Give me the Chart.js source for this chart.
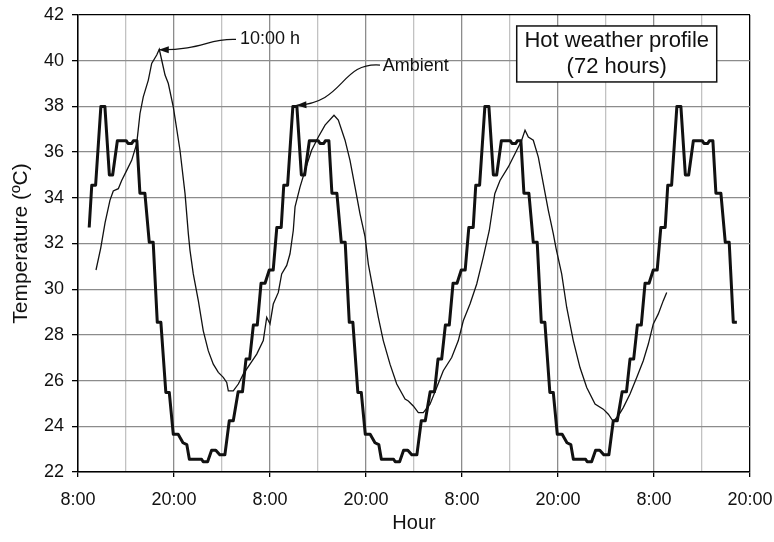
<!DOCTYPE html>
<html>
<head>
<meta charset="utf-8">
<script src="https://cdn.jsdelivr.net/npm/chart.js@4.4.1/dist/chart.umd.min.js"></script>
<style>
  html, body { margin: 0; padding: 0; background: #fff; }
  canvas { display: block; }
</style>
</head>
<body>
<canvas id="chart" width="774" height="542"></canvas>
<script>
// hours since the first 8:00 tick
const X_TICK_LABELS = ["8:00", "20:00", "8:00", "20:00", "8:00", "20:00", "8:00", "20:00"];
const Y_TICK_LABELS = ["22", "24", "26", "28", "30", "32", "34", "36", "38", "40", "42"];

// Ambient (thick stepped line): vertices
const ambientHours = [
  1.40, 1.72, 2.20, 2.86, 3.36, 3.92, 4.33, 4.92, 6.02, 6.25, 6.72, 6.92, 7.36, 7.74, 8.36,
  8.91, 9.40, 9.91, 10.36, 10.98, 11.41, 11.91, 12.52, 13.12, 13.60, 13.92, 15.45, 15.65,
  16.20, 16.70, 17.22, 17.72, 18.36, 18.91, 19.41, 20.02, 20.56, 21.00, 21.46, 21.92, 22.41,
  22.88, 23.38, 23.91, 24.40, 24.85,
  25.40, 25.72, 26.20, 26.86, 27.36, 27.92, 28.33, 28.92, 30.02, 30.25, 30.72, 30.92, 31.36,
  31.74, 32.36, 32.91, 33.40, 33.91, 34.36, 34.98, 35.41, 35.91, 36.52, 37.12, 37.60, 37.92,
  39.45, 39.65, 40.20, 40.70, 41.22, 41.72, 42.36, 42.91, 43.41, 44.02, 44.56, 45.00, 45.46,
  45.92, 46.41, 46.88, 47.38, 47.91, 48.40, 48.85,
  49.40, 49.72, 50.20, 50.86, 51.36, 51.92, 52.33, 52.92, 54.02, 54.25, 54.72, 54.92, 55.36,
  55.74, 56.36, 56.91, 57.40, 57.91, 58.36, 58.98, 59.41, 59.91, 60.52, 61.12, 61.60, 61.92,
  63.45, 63.65, 64.20, 64.70, 65.22, 65.72, 66.36, 66.91, 67.41, 68.02, 68.56, 69.00, 69.46,
  69.92, 70.41, 70.88, 71.38, 71.91, 72.40, 72.85,
  73.40, 73.72, 74.20, 74.86, 75.36, 75.92, 76.33, 76.92, 78.02, 78.25, 78.72, 78.92, 79.36,
  79.74, 80.36, 80.91, 81.40, 81.91, 82.36,
];
const ambientTemp = [
  32.7, 34.55, 34.55, 38.0, 38.0, 35.0, 35.0, 36.5, 36.5, 36.38, 36.38, 36.5, 36.5, 34.2, 34.2,
  32.05, 32.05, 28.55, 28.55, 25.48, 25.48, 23.65, 23.65, 23.28, 23.2, 22.56, 22.56, 22.45,
  22.45, 22.95, 22.95, 22.75, 22.75, 24.24, 24.24, 25.51, 25.51, 26.94, 26.94, 28.43, 28.43,
  30.26, 30.26, 30.84, 30.84, 32.7,
  32.7, 34.55, 34.55, 38.0, 38.0, 35.0, 35.0, 36.5, 36.5, 36.38, 36.38, 36.5, 36.5,
  34.2, 34.2, 32.05, 32.05, 28.55, 28.55, 25.48, 25.48, 23.65, 23.65, 23.28, 23.2, 22.56,
  22.56, 22.45, 22.45, 22.95, 22.95, 22.75, 22.75, 24.24, 24.24, 25.51, 25.51, 26.94, 26.94,
  28.43, 28.43, 30.26, 30.26, 30.84, 30.84, 32.7,
  32.7, 34.55, 34.55, 38.0, 38.0, 35.0, 35.0, 36.5, 36.5, 36.38, 36.38, 36.5, 36.5,
  34.2, 34.2, 32.05, 32.05, 28.55, 28.55, 25.48, 25.48, 23.65, 23.65, 23.28, 23.2, 22.56,
  22.56, 22.45, 22.45, 22.95, 22.95, 22.75, 22.75, 24.24, 24.24, 25.51, 25.51, 26.94, 26.94,
  28.43, 28.43, 30.26, 30.26, 30.84, 30.84, 32.7,
  32.7, 34.55, 34.55, 38.0, 38.0, 35.0, 35.0, 36.5, 36.5, 36.38, 36.38, 36.5, 36.5,
  34.2, 34.2, 32.05, 32.05, 28.55, 28.55,
];

// lagged temperature (thin line)
const laggedHours = [
  2.25, 2.84, 3.38, 4.00, 4.41, 5.04, 5.46, 6.09, 6.71, 7.34, 7.75, 8.16, 8.79, 9.21, 9.84,
  10.16, 10.46, 10.88, 11.29, 11.91, 12.75, 13.38, 13.79, 14.00, 14.41, 15.04, 15.66, 16.29,
  16.91, 17.54, 18.16, 18.59, 18.79, 19.41, 20.04, 20.66, 21.50, 22.34, 23.16, 23.59, 24.00,
  24.41, 25.04, 25.46, 26.09, 26.50, 26.91, 27.13, 27.75, 28.38, 29.20, 30.04, 30.88, 32.00,
  32.54, 33.38, 34.00, 34.63, 35.25, 35.88, 36.29, 36.91, 37.54, 38.16, 39.00, 39.84, 40.88,
  41.29, 41.91, 42.54, 43.16, 44.00, 44.84, 45.66, 46.71, 47.54, 48.16, 49.00, 49.84, 50.66,
  51.41, 52.10, 52.75, 53.79, 54.84, 55.46, 55.88, 56.29, 56.91, 57.54, 58.16, 58.79, 59.41,
  59.75, 60.46, 61.09, 61.91, 62.75, 63.59, 64.63, 65.66, 66.29, 66.91, 67.54, 68.16, 69.00,
  69.84, 70.66, 71.29, 71.91, 72.54, 73.16, 73.59,
];
const laggedTemp = [
  30.84, 31.8, 32.9, 33.9, 34.3, 34.4, 34.76, 35.2, 35.64, 36.37, 37.69, 38.42, 39.15, 39.88, 40.25,
  40.5, 40.03, 39.37, 39.0, 37.98, 36.08, 34.18, 32.43, 31.7, 30.67, 29.5, 28.18, 27.3,
  26.72, 26.36, 26.14, 25.92, 25.55, 25.55, 25.85, 26.28, 26.72, 27.16, 27.75, 28.77, 28.48,
  29.35, 29.86, 30.67, 31.04, 31.55, 32.57, 33.6, 34.47, 35.2, 36.08, 36.66, 37.18, 37.61,
  37.4, 36.52, 35.64, 34.47, 33.3, 32.3, 31.1, 29.94, 28.77, 27.75, 26.72, 25.85, 25.19,
  25.11, 24.89, 24.6, 24.6, 24.97, 25.7, 26.43, 27.01, 27.75, 28.62, 29.35, 30.23, 31.4,
  32.57, 34.18, 34.76, 35.35, 36.08, 36.52, 36.96, 36.66, 36.52, 35.78, 34.62, 33.45, 32.43,
  31.8, 30.67, 29.2, 27.75, 26.57, 25.7, 24.97, 24.75, 24.53, 24.21, 24.46, 24.82, 25.41,
  26.14, 26.87, 27.6, 28.48, 28.92, 29.5, 29.86,
];

// callouts, in data units: [startX, startY, cp1X, cp1Y, cp2X, cp2Y, tipX, tipY]
const CALLOUTS = [
  { text: "10:00 h", at: [20.25, 40.93], path: [19.75, 40.93, 16.25, 40.99, 15.63, 40.46, 10.1, 40.48] },
  { text: "Ambient", at: [38.1, 39.75], path: [37.75, 39.81, 32.75, 39.94, 33.38, 38.14, 27.3, 38.05] },
];
const NOTE_BOX = { lines: ["Hot weather profile", "(72 hours)"], x0: 54.84, x1: 79.84, y0: 41.52, y1: 39.07 };

const FONT = "'Liberation Sans', Arial, sans-serif";
const INK = "#111";

function toPts(xs, ys) {
  return xs.map((x, i) => ({ x, y: ys[i] }));
}

const calloutPlugin = {
  id: "callouts",
  afterDatasetsDraw(chart) {
    const { ctx, scales: { x, y } } = chart;
    const px = (v) => x.getPixelForValue(v);
    const py = (v) => y.getPixelForValue(v);
    ctx.save();
    ctx.strokeStyle = INK;
    ctx.fillStyle = INK;
    ctx.lineWidth = 1.2;
    ctx.font = `18px ${FONT}`;
    ctx.textBaseline = "middle";
    ctx.textAlign = "left";
    for (const c of CALLOUTS) {
      const p = c.path;
      ctx.beginPath();
      ctx.moveTo(px(p[0]), py(p[1]));
      ctx.bezierCurveTo(px(p[2]), py(p[3]), px(p[4]), py(p[5]), px(p[6]), py(p[7]));
      ctx.stroke();
      const tx = px(p[6]), ty = py(p[7]);
      const a = Math.atan2(ty - py(p[5]), tx - px(p[4]));
      ctx.beginPath();
      ctx.moveTo(tx, ty);
      ctx.lineTo(tx - 10 * Math.cos(a) + 3.5 * Math.sin(a), ty - 10 * Math.sin(a) - 3.5 * Math.cos(a));
      ctx.lineTo(tx - 10 * Math.cos(a) - 3.5 * Math.sin(a), ty - 10 * Math.sin(a) + 3.5 * Math.cos(a));
      ctx.closePath();
      ctx.fill();
      ctx.fillText(c.text, px(c.at[0]), py(c.at[1]));
    }
    // title box
    const bx = px(NOTE_BOX.x0), by = py(NOTE_BOX.y0);
    const bw = px(NOTE_BOX.x1) - bx, bh = py(NOTE_BOX.y1) - by;
    ctx.fillStyle = "#fff";
    ctx.fillRect(bx, by, bw, bh);
    ctx.lineWidth = 1.5;
    ctx.strokeRect(bx, by, bw, bh);
    ctx.fillStyle = INK;
    ctx.font = `22px ${FONT}`;
    ctx.textAlign = "center";
    ctx.fillText(NOTE_BOX.lines[0], bx + bw / 2, by + 14.5);
    ctx.fillText(NOTE_BOX.lines[1], bx + bw / 2, by + 41);
    ctx.restore();
  },
};

new Chart(document.getElementById("chart"), {
  type: "line",
  data: {
    datasets: [
      {
        label: "Ambient",
        data: toPts(ambientHours, ambientTemp),
        borderColor: INK,
        borderWidth: 3,
        pointRadius: 0,
        tension: 0,
        borderJoinStyle: "round",
      },
      {
        label: "10:00 h",
        data: toPts(laggedHours, laggedTemp),
        borderColor: INK,
        borderWidth: 1.3,
        pointRadius: 0,
        tension: 0,
      },
    ],
  },
  options: {
    responsive: false,
    devicePixelRatio: 1,
    animation: false,
    parsing: false,
    layout: { padding: { left: 0, top: 15, right: 24, bottom: 0 } },
    plugins: { legend: { display: false }, tooltip: { enabled: false } },
    scales: {
      x: {
        type: "linear",
        min: 0,
        max: 84,
        afterFit: (s) => {
          s.height = 70;
          s.paddingLeft = 0;
          s.paddingRight = 0;
        },
        border: { color: "#000", width: 1.5 },
        grid: {
          lineWidth: 1.3,
          tickLength: 5,
          color: (c) => (c.tick.value === 84 ? "#000" : c.tick.value % 12 === 0 ? "#8c8c8c" : "#c2c2c2"),
          tickColor: (c) => (c.tick.value % 12 === 0 ? "#000" : "rgba(0,0,0,0)"),
        },
        ticks: {
          stepSize: 6,
          autoSkip: false,
          maxRotation: 0,
          padding: 12,
          color: INK,
          font: { family: FONT, size: 18 },
          callback: (v) => (v % 12 === 0 ? X_TICK_LABELS[v / 12] : ""),
        },
        title: {
          display: true,
          text: "Hour",
          color: INK,
          font: { family: FONT, size: 20 },
          padding: 7,
        },
      },
      y: {
        min: 22,
        max: 42,
        afterFit: (s) => {
          s.width = 78;
          s.paddingTop = 0;
          s.paddingBottom = 0;
        },
        border: { color: "#000", width: 1.5 },
        grid: {
          lineWidth: 1.3,
          tickLength: 6,
          color: (c) => (c.tick.value === 42 ? "#000" : "#8c8c8c"),
          tickColor: "#000",
        },
        ticks: {
          stepSize: 2,
          padding: 8,
          color: INK,
          font: { family: FONT, size: 18 },
          callback: (v) => Y_TICK_LABELS[(v - 22) / 2],
        },
        title: {
          display: true,
          text: "Temperature (ºC)",
          color: INK,
          font: { family: FONT, size: 21 },
          padding: 9,
        },
      },
    },
  },
  plugins: [calloutPlugin],
});
</script>
</body>
</html>
